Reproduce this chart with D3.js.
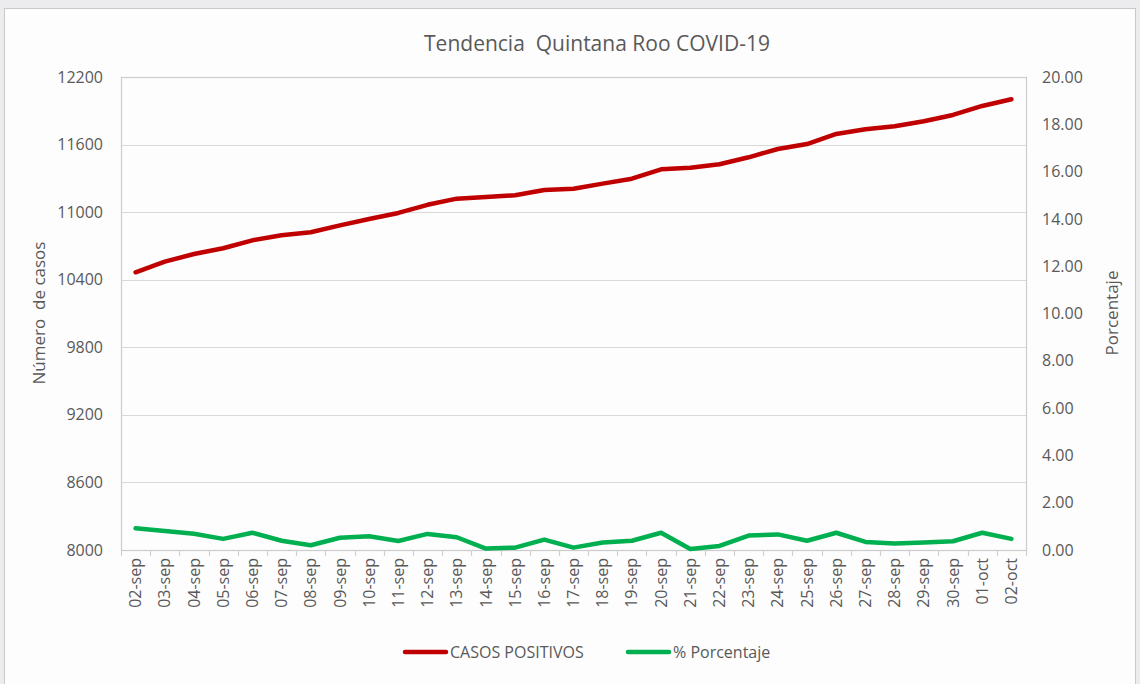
<!DOCTYPE html>
<html>
<head>
<meta charset="utf-8">
<script src="https://cdn.jsdelivr.net/npm/d3@7"></script>
<style>
  html, body { margin: 0; padding: 0; background: #ececee; }
  svg { display: block; font-family: "Open Sans", "Noto Sans", sans-serif; }
  svg text { white-space: pre; }
</style>
</head>
<body>
<div id="chart"></div>
<script>
const fechas = ['02-sep','03-sep','04-sep','05-sep','06-sep','07-sep','08-sep','09-sep','10-sep','11-sep',
  '12-sep','13-sep','14-sep','15-sep','16-sep','17-sep','18-sep','19-sep','20-sep','21-sep',
  '22-sep','23-sep','24-sep','25-sep','26-sep','27-sep','28-sep','29-sep','30-sep','01-oct','02-oct'];
const casosPositivos = [10466, 10560, 10628, 10679, 10750, 10794, 10821, 10883, 10939, 10993,
  11065, 11120, 11135, 11150, 11197, 11208, 11253, 11297, 11380, 11395,
  11425, 11487, 11561, 11605, 11694, 11736, 11762, 11807, 11863, 11943, 12002];
const porcentaje = [0.92, 0.80, 0.69, 0.47, 0.73, 0.39, 0.20, 0.52, 0.58, 0.38,
  0.68, 0.54, 0.06, 0.10, 0.44, 0.10, 0.32, 0.39, 0.73, 0.04,
  0.17, 0.61, 0.66, 0.39, 0.73, 0.34, 0.27, 0.32, 0.37, 0.73, 0.47];
const casosTicks = [8000, 8600, 9200, 9800, 10400, 11000, 11600, 12200];
const porcentajeTicks = [0, 2, 4, 6, 8, 10, 12, 14, 16, 18, 20];

const W = 1140, H = 684;
const plot = {left: 121, right: 1026, top: 77, bottom: 550};
const textColor = '#595959';
const fontStack = '"Open Sans", "Noto Sans", sans-serif';

const svg = d3.select('#chart').append('svg')
  .attr('width', W).attr('height', H);

// card
svg.append('rect')
  .attr('x', 4.5).attr('y', 8.5).attr('width', 1131).attr('height', 690)
  .attr('fill', '#fdfdfd').attr('stroke', '#c9c9c9');

svg.append('text')
  .attr('x', 597).attr('y', 51)
  .attr('text-anchor', 'middle')
  .attr('fill', textColor)
  .style('font-size', '21px')
  .text('Tendencia  Quintana Roo COVID-19');

const x = d3.scaleBand().domain(fechas).range([plot.left, plot.right]).padding(0);
const yLeft = d3.scaleLinear().domain([8000, 12200]).range([plot.bottom, plot.top]);
const yRight = d3.scaleLinear().domain([0, 20]).range([plot.bottom, plot.top]);

// gridlines
svg.append('g')
  .selectAll('line')
  .data(casosTicks)
  .join('line')
  .attr('x1', plot.left).attr('x2', plot.right)
  .attr('y1', d => Math.round(yLeft(d)) + 0.5)
  .attr('y2', d => Math.round(yLeft(d)) + 0.5)
  .attr('stroke', '#d9d9d9').attr('stroke-width', 1.2);

// plot border
svg.append('rect')
  .attr('x', plot.left + 0.5).attr('y', plot.top + 0.5)
  .attr('width', plot.right - plot.left).attr('height', plot.bottom - plot.top)
  .attr('fill', 'none').attr('stroke', '#cccccc').attr('stroke-width', 1.2);

// left axis
const leftAxis = svg.append('g')
  .attr('transform', `translate(${plot.left},0)`)
  .call(d3.axisLeft(yLeft).tickValues(casosTicks).tickSize(0).tickPadding(18).tickFormat(d3.format('d')));
leftAxis.select('.domain').remove();
leftAxis.selectAll('text').attr('fill', textColor).style('font-size', '16px')
  .style('font-family', fontStack);

// right axis
const rightAxis = svg.append('g')
  .attr('transform', `translate(${plot.right},0)`)
  .call(d3.axisRight(yRight).tickValues(porcentajeTicks).tickSize(0).tickPadding(16).tickFormat(d3.format('.2f')));
rightAxis.select('.domain').remove();
rightAxis.selectAll('text').attr('fill', textColor).style('font-size', '16px')
  .style('font-family', fontStack);

// bottom axis
const bottomAxis = svg.append('g')
  .attr('transform', `translate(0,${plot.bottom})`)
  .call(d3.axisBottom(x).tickSize(0).tickPadding(0));
bottomAxis.select('.domain').remove();
bottomAxis.selectAll('text')
  .attr('fill', textColor)
  .style('font-size', '16px')
  .style('font-family', fontStack)
  .attr('text-anchor', 'end')
  .attr('dy', '0.35em')
  .attr('transform', 'translate(0,8) rotate(-90)');

// category separator ticks
const bounds = fechas.map(d => x(d)).concat([plot.right]);
svg.append('g')
  .selectAll('line')
  .data(bounds)
  .join('line')
  .attr('x1', d => Math.round(d) + 0.5).attr('x2', d => Math.round(d) + 0.5)
  .attr('y1', plot.bottom).attr('y2', plot.bottom + 6)
  .attr('stroke', '#d0d0d0').attr('stroke-width', 1.2);

// axis titles
svg.append('text')
  .attr('transform', 'translate(45,313) rotate(-90)')
  .attr('text-anchor', 'middle')
  .attr('fill', textColor)
  .style('font-size', '17px')
  .text('Número  de casos');

svg.append('text')
  .attr('transform', 'translate(1118,313) rotate(-90)')
  .attr('text-anchor', 'middle')
  .attr('fill', textColor)
  .style('font-size', '17px')
  .text('Porcentaje');

const cx = d => x(d) + x.bandwidth() / 2;

svg.append('path')
  .datum(fechas.map((f, i) => [f, casosPositivos[i]]))
  .attr('fill', 'none')
  .attr('stroke', '#c00000')
  .attr('stroke-width', 4.5)
  .attr('stroke-linejoin', 'round')
  .attr('stroke-linecap', 'round')
  .attr('d', d3.line().x(d => cx(d[0])).y(d => yLeft(d[1])));

svg.append('path')
  .datum(fechas.map((f, i) => [f, porcentaje[i]]))
  .attr('fill', 'none')
  .attr('stroke', '#00b050')
  .attr('stroke-width', 4.5)
  .attr('stroke-linejoin', 'round')
  .attr('stroke-linecap', 'round')
  .attr('d', d3.line().x(d => cx(d[0])).y(d => yRight(d[1])));

// legend
const legend = [
  {label: 'CASOS POSITIVOS', color: '#c00000', x: 405},
  {label: '% Porcentaje', color: '#00b050', x: 628}
];
const lg = svg.append('g').selectAll('g').data(legend).join('g')
  .attr('transform', d => `translate(${d.x},652)`);
lg.append('line')
  .attr('x1', 0).attr('x2', 41).attr('y1', 0).attr('y2', 0)
  .attr('stroke', d => d.color).attr('stroke-width', 4.5).attr('stroke-linecap', 'round');
lg.append('text')
  .attr('x', 45).attr('y', 0).attr('dy', '0.35em')
  .attr('fill', textColor)
  .style('font-size', '16px')
  .text(d => d.label);
</script>
</body>
</html>
